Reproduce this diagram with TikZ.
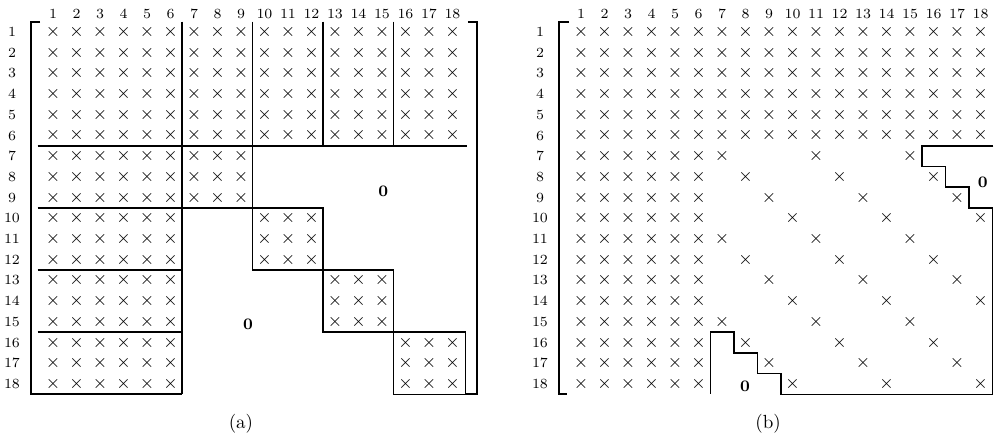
\documentclass[tikz,border=0pt]{standalone}
\usetikzlibrary{positioning}

\begin{document}
\begin{tikzpicture}[
  x=11.75pt, y=-10.35pt,
  entry/.style={inner sep=0pt, font=\fontsize{9.5}{9.5}\selectfont},
  idxlab/.style={inner sep=0pt, font=\fontsize{7}{7}\selectfont},
  zerolab/.style={inner sep=0pt, font=\fontsize{8}{8}\selectfont\bfseries},
  caplab/.style={inner sep=0pt, font=\fontsize{9.5}{9.5}\selectfont},
  blk/.style={line width=0.75pt},
  brk/.style={line width=1pt},
]

% Frame
\useasboundingbox (-1.255,-0.546) rectangle (41.085,20.565);

% =============================================
% LEFT: matrix (a), block structure
% =============================================
\begin{scope}
  % index labels
  \foreach \c in {1,...,18}
    \node[idxlab] (acol\c) at (\c,0.13) {\c};
  \foreach \r in {1,...,18}
    \node[idxlab] (arow\r) at (-0.745,\r) {\r};

  % full rows 1-6 and full columns 1-6
  \foreach \r in {1,...,6}
    \foreach \c in {7,...,18}
      \node[entry] (a-\r-\c) at (\c,\r) {$\times$};
  \foreach \r in {1,...,18}
    \foreach \c in {1,...,6}
      \node[entry] (a-\r-\c) at (\c,\r) {$\times$};

  % diagonal 3x3 blocks
  \foreach \b in {1,...,4}
    \foreach \i in {4,5,6}
      \foreach \j in {4,5,6} {
        \pgfmathtruncatemacro\rr{3*\b+\i}
        \pgfmathtruncatemacro\cc{3*\b+\j}
        \node[entry] (a-\rr-\cc) at (\cc,\rr) {$\times$};
      }

  \node[zerolab] (azeroA) at (15.05,8.7) {0};
  \node[zerolab] (azeroB) at (9.3,15.1) {0};

  % brackets
  \draw[brk] (0.45,0.5) -- (0.05,0.5) -- (0.05,18.5) -- (6.5,18.5);
  \draw[brk] (18.65,0.5) -- (19.05,0.5) -- (19.05,18.5) -- (18.55,18.5);

  % partition lines
  \draw[blk] (6.5,0.5) -- (6.5,18.5);
  \draw[blk] (9.5,0.5) -- (9.5,12.5);
  \draw[blk] (12.5,0.5) -- (12.5,6.5);
  \draw[blk] (15.5,0.5) -- (15.5,6.5);
  \draw[blk] (0.35,6.5) -- (18.6,6.5);
  \draw[blk] (0.35,9.5) -- (9.5,9.5);
  \draw[blk] (0.35,12.5) -- (6.5,12.5);
  \draw[blk] (0.35,15.5) -- (6.5,15.5);
  \draw[blk] (9.5,9.5) rectangle (12.5,12.5);
  \draw[blk] (12.5,12.5) rectangle (15.5,15.5);
  \draw[blk] (15.5,15.5) rectangle (18.55,18.5);

  \node[caplab] (capa) at (9.0,19.94) {(a)};
\end{scope}

% =============================================
% RIGHT: matrix (b), after reordering
% =============================================
\begin{scope}[shift={(22.468,0)}]
  % index labels
  \foreach \c in {1,...,18}
    \node[idxlab] (bcol\c) at (\c,0.13) {\c};
  \foreach \r in {1,...,18}
    \node[idxlab] (brow\r) at (-0.745,\r) {\r};

  % full rows 1-6 and full columns 1-6
  \foreach \r in {1,...,6}
    \foreach \c in {7,...,18}
      \node[entry] (b-\r-\c) at (\c,\r) {$\times$};
  \foreach \r in {1,...,18}
    \foreach \c in {1,...,6}
      \node[entry] (b-\r-\c) at (\c,\r) {$\times$};

  % scattered entries, step 4
  \foreach \r in {7,...,18}
    \foreach \k in {0,4,8} {
      \pgfmathtruncatemacro\cc{7+mod(\r-7,4)+\k}
      \node[entry] (b-\r-\cc) at (\cc,\r) {$\times$};
    }

  \node[zerolab] (bzeroA) at (18.1,8.25) {0};
  \node[zerolab] (bzeroB) at (7.98,18.1) {0};

  % bracket and staircase outline
  \draw[brk] (0.49,0.5) -- (0.06,0.5) -- (0.06,18.5) -- (0.4,18.5);
  \draw[blk] (18.55,6.5) -- (15.5,6.5) -- (15.5,7.5) -- (16.5,7.5)
    -- (16.5,8.5) -- (17.5,8.5) -- (17.5,9.5) -- (18.5,9.5)
    -- (18.5,18.5) -- (9.5,18.5) -- (9.5,17.5) -- (8.5,17.5)
    -- (8.5,16.5) -- (7.5,16.5) -- (7.5,15.5) -- (6.5,15.5)
    -- (6.5,18.5);

  \node[caplab] (capb) at (8.96,19.94) {(b)};
\end{scope}

\end{tikzpicture}
\end{document}
